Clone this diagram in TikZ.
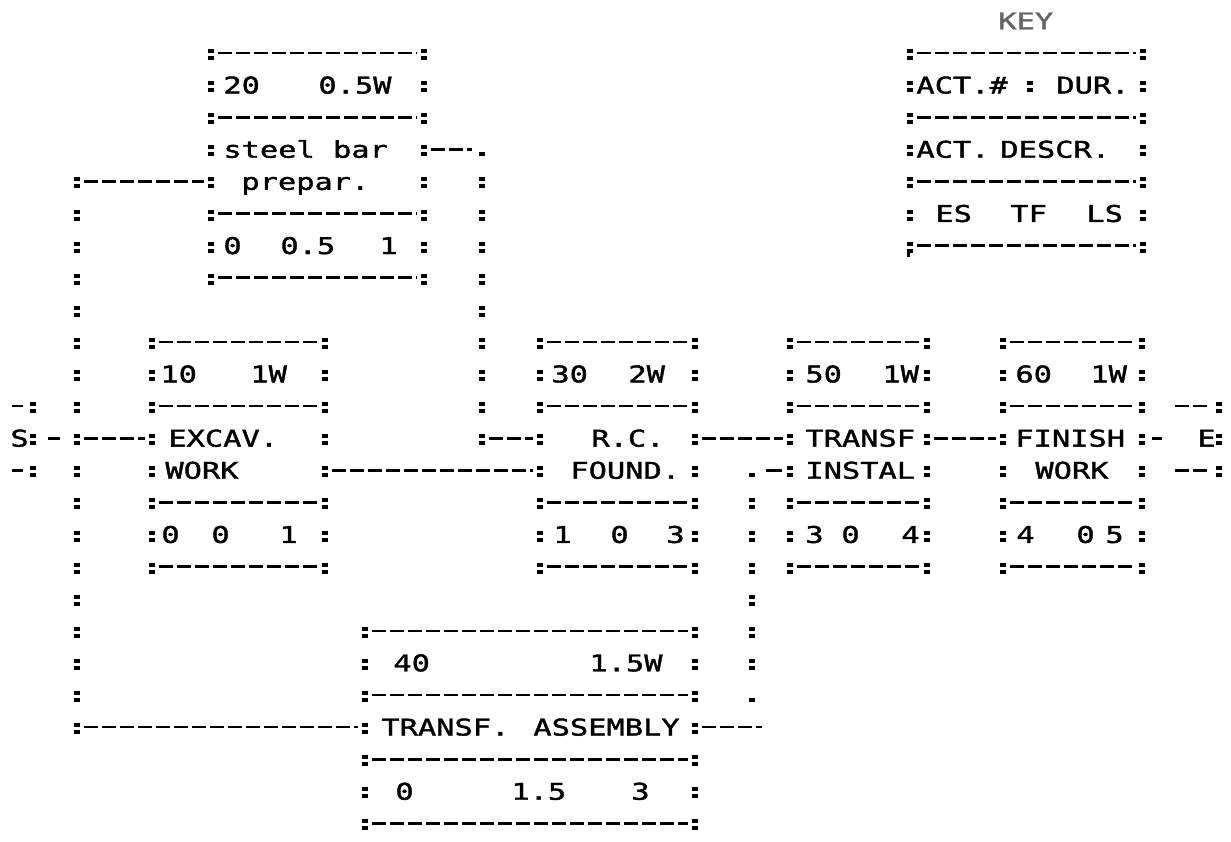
\documentclass[tikz,border=0pt]{standalone}
\usepackage{fontspec}
\usepackage{tikz}
\usetikzlibrary{calc,positioning}
\newfontfamily\dotfont{DejaVu Sans Mono}[FakeStretch=1.32, FakeBold=1.6]

\tikzset{
  txt/.style={anchor=west, inner sep=0pt, text height=8.4pt, text depth=0pt,
    font=\dotfont\fontsize{11.5pt}{11.5pt}\selectfont},
  colcol/.style={line width=2.8pt, dash pattern=on 2pt off 1.5pt on 2pt off 10.55pt,
    shorten <=-2pt, shorten >=-3.5pt},
  dashrow/.style={line width=1.3pt, dash pattern=on 7pt off 2pt,
    shorten <=3.5pt, shorten >=3.5pt},
  onedash/.style={line width=1.3pt},
  colonmark/.pic={\fill (-1.4pt,2pt) rectangle (1.4pt,0pt);
    \fill (-1.4pt,-1.5pt) rectangle (1.4pt,-3.5pt);},
  dotmark/.pic={\fill (-1.4pt,-1.5pt) rectangle (1.4pt,-3.5pt);},
  semimark/.pic={\fill (-1.4pt,2pt) rectangle (1.4pt,0pt);
    \fill (-1.4pt,-1.5pt) rectangle (1.4pt,-3.5pt);
    \fill (-1.4pt,-3.5pt) rectangle (0pt,-5.5pt);}
}

\begin{document}
\begin{tikzpicture}[x=0.5pt, y=-16.05pt]
\useasboundingbox (0,-1.651) rectangle (1231,24.579);
\fill[white] (0,-1.651) rectangle (1231,24.579);

% activity boxes: name / left / right / top row / height / rules
\foreach \n/\xl/\xr/\rt/\h/\seps in {a20/211/424/0/7/{0,2,5,7},
    a10/152/325/9/7/{0,2,5,7}, a30/540/695/9/7/{0,2,5,7},
    a50/790/927/9/7/{0,2,5,7}, a60/1003/1142/9/7/{0,2,5,7},
    a40/365/695/18/6/{0,2,4,6}}{
  \draw[colcol] (\xl,\rt) -- (\xl,\rt+\h);
  \draw[colcol] (\xr,\rt) -- (\xr,\rt+\h);
  \foreach \s in \seps
    \draw[dashrow] (\xl,\rt+\s) -- (\xr,\rt+\s);
  \coordinate (\n-l3) at (\xl,\rt+3);
  \coordinate (\n-l4) at (\xl,\rt+4);
  \coordinate (\n-r3) at (\xr,\rt+3);
  \coordinate (\n-r4) at (\xr,\rt+4);
}

% 20
\node[txt] (n20) at (223,1) {20};
\node[txt] (d20) at (318,1) {0.5W};
\node[txt] (t20) at (223,3) {steel bar};
\node[txt] (u20) at (241,4) {prepar.};
\node[txt] (es20) at (223,6) {0};
\node[txt] (tf20) at (280,6) {0.5};
\node[txt] (ls20) at (379,6) {1};
% 10
\node[txt] (n10) at (160,10) {10};
\node[txt] (d10) at (250,10) {1W};
\node[txt] (t10) at (168,12) {EXCAV.};
\node[txt] (u10) at (165,13) {WORK};
\node[txt] (es10) at (161,15) {0};
\node[txt] (tf10) at (211,15) {0};
\node[txt] (ls10) at (279,15) {1};
% 30
\node[txt] (n30) at (551,10) {30};
\node[txt] (d30) at (628,10) {2W};
\node[txt] (t30) at (591,12) {R.C.};
\node[txt] (u30) at (570,13) {FOUND.};
\node[txt] (es30) at (553,15) {1};
\node[txt] (tf30) at (610,15) {0};
\node[txt] (ls30) at (666,15) {3};
% 50
\node[txt] (n50) at (805,10) {50};
\node[txt] (d50) at (882,10) {1W};
\node[txt] (t50) at (805,12) {TRANSF};
\node[txt] (u50) at (805,13) {INSTAL};
\node[txt] (es50) at (805,15) {3};
\node[txt] (tf50) at (841,15) {0};
\node[txt] (ls50) at (901,15) {4};
% 60
\node[txt] (n60) at (1015,10) {60};
\node[txt] (d60) at (1090,10) {1W};
\node[txt] (t60) at (1015,12) {FINISH};
\node[txt] (u60) at (1035,13) {WORK};
\node[txt] (es60) at (1016,15) {4};
\node[txt] (tf60) at (1076,15) {0};
\node[txt] (ls60) at (1105,15) {5};
% 40
\node[txt] (n40) at (393,19) {40};
\node[txt] (d40) at (589,19) {1.5W};
\node[txt] (t40) at (381,21) {TRANSF.};
\node[txt] (u40) at (533,21) {ASSEMBLY};
\node[txt] (es40) at (395,23) {0};
\node[txt] (tf40) at (511,23) {1.5};
\node[txt] (ls40) at (631,23) {3};

% start
\node[txt] (start) at (10,12) {S};
\coordinate (s1) at (33,11);
\coordinate (s2) at (33,12);
\coordinate (s3) at (33,13);
\draw[colcol] (s1) -- (s3);
\draw[onedash] (12,11) -- (23,11);
\draw[onedash] (12,13) -- (23,13);

% left bus
\coordinate (v1a) at (77,4);
\coordinate (v1s) at (77,12);
\coordinate (v1b) at (77,21);
\draw[colcol] (v1a) -- (v1b);
\draw[onedash, shorten <=7.5pt, shorten >=8.5pt] (s2) -- (v1s);
\draw[dashrow] (v1a) -- (a20-l4);
\draw[dashrow] (v1s) -- (a10-l3);
\draw[dashrow] (v1b) -- (a40-l3);

% steel bar -> R.C. found.
\coordinate (v2a) at (482,3);
\coordinate (v2c) at (482,4);
\coordinate (v2b) at (482,12);
\draw[dashrow, shorten >=5pt] (a20-r3) -- (v2a);
\pic at (v2a) {dotmark};
\draw[colcol] (v2c) -- (v2b);
\draw[dashrow] (v2b) -- (a30-l3);

\draw[dashrow] (a10-r4) -- (a30-l4);
\draw[dashrow] (a30-r3) -- (a50-l3);

% assembly -> instal
\coordinate (v3a) at (752,13);
\coordinate (v3c) at (752,14);
\coordinate (v3d) at (752,19);
\coordinate (v3b) at (752,20);
\coordinate (v3e) at (762,21);
\draw[dashrow, shorten >=0pt] (a40-r3) -- (v3e);
\pic at (v3b) {dotmark};
\draw[colcol] (v3c) -- (v3d);
\pic at (v3a) {dotmark};
\draw[onedash, shorten <=7pt, shorten >=4pt] (v3a) -- (a50-l4);

\draw[dashrow] (a50-r3) -- (a60-l3);

% end
\node[txt] (finish) at (1197,12) {E};
\coordinate (e1) at (1219,11);
\coordinate (e3) at (1219,13);
\coordinate (e1a) at (1175,11);
\coordinate (e3a) at (1175,13);
\draw[colcol] (e1) -- (e3);
\draw[dashrow, shorten <=0pt, shorten >=4.5pt] (e1a) -- (e1);
\draw[dashrow, shorten <=0pt, shorten >=4.5pt] (e3a) -- (e3);
\draw[onedash, shorten <=5pt, shorten >=17.5pt] (a60-r3) -- (finish.west);

% key
\node[txt, text=black!60] (key) at (998,-1) {KEY};
\draw[colcol] (910,0) -- (910,5);
\pic at (910,6) {semimark};
\draw[colcol] (1143,0) -- (1143,6);
\foreach \s in {0,2,4,6}
  \draw[dashrow] (910,\s) -- (1143,\s);
\node[txt] (k1) at (916,1) {ACT.\#};
\pic at (1030,1) {colonmark};
\node[txt] (k2) at (1056,1) {DUR.};
\node[txt] (k3) at (916,3) {ACT.};
\node[txt] (k4) at (1000,3) {DESCR.};
\node[txt] (k5) at (935,5) {ES};
\node[txt] (k6) at (1010,5) {TF};
\node[txt] (k7) at (1086,5) {LS};
\end{tikzpicture}
\end{document}
